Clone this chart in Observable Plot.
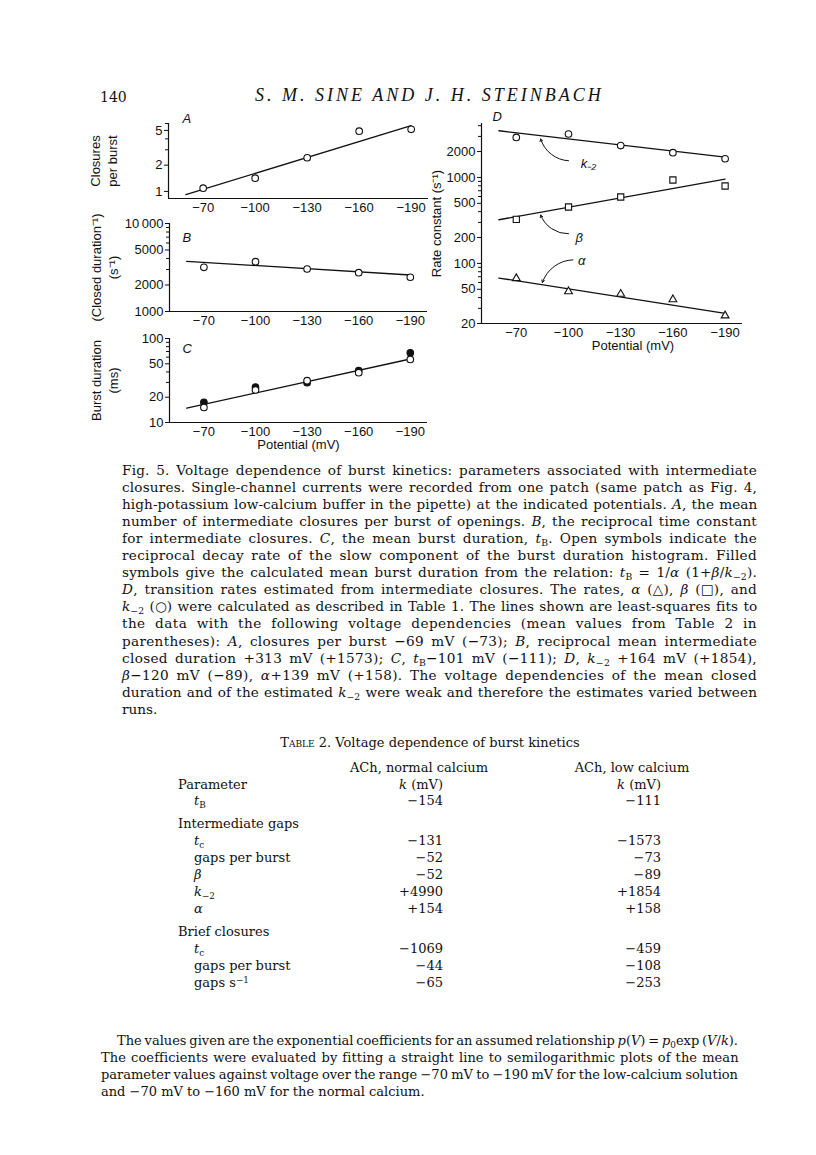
<!DOCTYPE html>
<html><head><meta charset="utf-8">
<script src="https://cdn.jsdelivr.net/npm/d3@7"></script>
<script src="https://cdn.jsdelivr.net/npm/@observablehq/plot@0.6"></script>
<style>
body{margin:0;background:#fff;}
#page{position:relative;width:816px;height:1155px;background:#fff;overflow:hidden;color:#111;}
.t{position:absolute;font-family:"DejaVu Serif",serif;font-size:13px;line-height:17px;height:17px;white-space:nowrap;}
sub{font-size:0.68em;vertical-align:-0.3em;line-height:0;}
sup{font-size:0.68em;vertical-align:0.45em;line-height:0;}
</style></head><body><div id="page"></div>
<script>
// ---------- data ----------
const potentials = [-70, -100, -130, -160, -190];
const fitV = [-60, -190];
const closuresPerBurst = [1.09, 1.42, 2.43, 4.9, 5.15];
const closuresFit = [0.92, 5.68];
const closedRate = [3180, 3680, 3040, 2760, 2450];
const closedRateFit = [3720, 2600];
const burstOpen = [15.1, 24.4, 31.5, 39.2, 56.3];
const burstFilled = [17.4, 26.4, 29.8, 41.4, 67.7];
const burstFit = [14.8, 57];
const kMinus2 = [2920, 3200, 2350, 1940, 1650];
const kMinus2Fit = [3490, 1720];
const beta = [325, 453, 592, 933, 795];
const betaFit = [322, 958];
const alpha = [67, 47.2, 44, 38.1, 24.7];
const alphaFit = [67.6, 26.2];
const annotLabels = ["k\u208B\u2082", "\u03B2", "\u03B1"];
const annotLabelV = [-107, -104, -105.5];
const annotLabelY = [1443, 199, 108];
const annotArrowFrom = [[-100, 1563], [-100, 221], [-102.5, 110]];
const annotArrowTo = [[-84, 2800], [-84, 365], [-85, 60]];

const ticksV = [-70, -100, -130, -160, -190];
const majorA = [1, 2, 5], minorA = [3, 4, 6];
const majorB = [1000, 2000, 5000, 10000], minorB = [3000, 4000, 6000, 7000, 8000, 9000];
const majorC = [10, 20, 50, 100], minorC = [30, 40, 60, 70, 80, 90];
const majorD = [20, 50, 100, 200, 500, 1000, 2000];
const minorD = [30, 40, 60, 70, 80, 90, 300, 400, 600, 700, 800, 900, 3000, 4000];

const page = document.getElementById("page");
const xDomain = [-50, -200];
const fmtV = d => "\u2212" + Math.abs(d);
const fmtY = d => d >= 10000 ? String(d).slice(0, -3) + "\u2009" + String(d).slice(-3) : String(d);
const rows = (vals) => potentials.map((V, i) => ({V, value: vals[i]}));
const fitRows = (vals) => fitV.map((V, i) => ({V, value: vals[i]}));
const SANS = "Liberation Sans, Arial, Helvetica, sans-serif";

function panel(o, marks) {
  const p = Plot.plot({
    width: o.width, height: o.height,
    marginLeft: o.ml, marginRight: o.mr, marginTop: o.mt, marginBottom: o.mb,
    x: {domain: xDomain},
    y: {type: "log", domain: o.yDomain},
    style: {fontSize: "13px", fontFamily: SANS, background: "transparent", overflow: "visible", color: "#111"},
    marks: [
      Plot.ruleX([xDomain[0]], {strokeWidth: 1.2}),
      Plot.ruleY([o.yDomain[0]], {strokeWidth: 1.2}),
      Plot.axisY({ticks: o.major, tickSize: 4, tickFormat: () => "", label: null}),
      Plot.axisY({ticks: o.minor, tickSize: 3, tickFormat: () => "", label: null}),
      Plot.text(o.major, {x: () => xDomain[0], y: d => d, text: fmtY, textAnchor: "end", dx: -6, fontSize: 13}),
      Plot.axisX({ticks: ticksV, tickSize: 0, tickPadding: 4, tickFormat: fmtV, label: null, fontSize: 13}),
      Plot.text([o.letter], {frameAnchor: "top-left", dx: o.ldx, dy: o.ldy, text: d => d, fontStyle: "italic", fontSize: 13}),
      Plot.text([o.ylabel], {frameAnchor: "left", dx: o.ylx, rotate: -90, text: d => d, lineHeight: 1.3, textAnchor: "middle", lineAnchor: "middle", fontSize: 13}),
      ...(o.xlabel ? [Plot.text([o.xlabel], {frameAnchor: "bottom", dx: o.xlx || 0, dy: 26, text: d => d, fontSize: 13})] : []),
      ...marks
    ]
  });
  p.style.position = "absolute";
  p.style.left = o.left + "px";
  p.style.top = o.top + "px";
  page.appendChild(p);
}

const openDot = {x: "V", y: "value", r: 3.3, stroke: "#111", fill: "white", strokeWidth: 1.1};
const fitLine = {x: "V", y: "value", stroke: "#111", strokeWidth: 1.3};

// Panel A
panel({left: 80, top: 100, width: 360, height: 125, ml: 88, mr: 12, mt: 23, mb: 27,
  yDomain: [0.83, 6], major: majorA, minor: minorA, letter: "A", ldx: 14, ldy: -10,
  ylabel: "Closures\nper burst", ylx: -65},
  [Plot.line(fitRows(closuresFit), fitLine), Plot.dot(rows(closuresPerBurst), openDot)]);

// Panel B
panel({left: 80, top: 200, width: 360, height: 135, ml: 89, mr: 13, mt: 23, mb: 24,
  yDomain: [1000, 10000], major: majorB, minor: minorB, letter: "B", ldx: 13, ldy: 9,
  ylabel: "(Closed duration\u207B\u00B9)\n(s\u207B\u00B9)", ylx: -65},
  [Plot.line(fitRows(closedRateFit), fitLine), Plot.dot(rows(closedRate), openDot)]);

// Panel C
panel({left: 80, top: 315, width: 360, height: 145, ml: 89, mr: 13, mt: 23, mb: 38,
  yDomain: [10, 100], major: majorC, minor: minorC, letter: "C", ldx: 13, ldy: 5,
  ylabel: "Burst duration\n(ms)", ylx: -65, xlabel: "Potential (mV)"},
  [Plot.line(fitRows(burstFit), fitLine),
   Plot.dot(rows(burstFilled), {...openDot, fill: "#111"}),
   Plot.dot(rows(burstOpen), openDot)]);

// Panel D
const annot = annotLabels.map((t, i) => ({t, V: annotLabelV[i], value: annotLabelY[i],
  x1: annotArrowFrom[i][0], y1: annotArrowFrom[i][1], x2: annotArrowTo[i][0], y2: annotArrowTo[i][1]}));
const arrowOpts = {x1: "x1", y1: "y1", x2: "x2", y2: "y2", headLength: 4, strokeWidth: 1, stroke: "#111"};
panel({left: 400, top: 100, width: 360, height: 260, ml: 81, mr: 18, mt: 23, mb: 37,
  yDomain: [20, 4240], major: majorD, minor: minorD, letter: "D", ldx: 11, ldy: -12,
  ylabel: "Rate constant (s\u207B\u00B9)", ylx: -46, xlabel: "Potential (mV)", xlx: 21},
  [Plot.line(fitRows(kMinus2Fit), fitLine),
   Plot.line(fitRows(betaFit), fitLine),
   Plot.line(fitRows(alphaFit), fitLine),
   Plot.dot(rows(kMinus2), openDot),
   Plot.dot(rows(beta), {...openDot, symbol: "square", r: 3.5}),
   Plot.dot(rows(alpha), {...openDot, symbol: "triangle", r: 2.9}),
   Plot.arrow(annot.slice(0, 2), {...arrowOpts, bend: 35}),
   Plot.arrow(annot.slice(2), {...arrowOpts, bend: -35}),
   Plot.text(annot, {x: "V", y: "value", text: "t", textAnchor: "start", fontStyle: "italic", fontSize: 13})]);

// ---------- text blocks ----------
function place(html, left, top, width, justify, extra) {
  const d = document.createElement("div");
  d.className = "t";
  d.style.left = left + "px";
  d.style.top = top + "px";
  if (width != null) d.style.width = width + "px";
  if (extra) Object.assign(d.style, extra);
  d.innerHTML = "<span>" + html + "</span>";
  page.appendChild(d);
  if (justify) {
    const span = d.firstChild;
    const w = span.getBoundingClientRect().width;
    const txt = span.textContent;
    const n = (txt.match(/ /g) || []).length;
    let extraW = width - w;
    if (extraW > 0) {
      const ls = Math.min(0.45, (extraW * 0.45) / txt.length);
      d.style.letterSpacing = ls + "px";
      extraW -= ls * txt.length;
    }
    if (n > 0) d.style.wordSpacing = (extraW / n) + "px";
  }
  return d;
}

place("140", 100, 89, null, false, {fontSize: "14px"});
place("S. M. SINE AND J. H. STEINBACH", 255, 87, null, false, {fontSize: "18px", fontStyle: "italic", letterSpacing: "3px", fontFamily: "Liberation Serif, serif"});

const K2 = "<i>k</i><sub>\u22122</sub>";
const TB = "<i>t</i><sub>B</sub>";
const captionLines = [
  "Fig. 5. Voltage dependence of burst kinetics: parameters associated with intermediate",
  "closures. Single-channel currents were recorded from one patch (same patch as Fig. 4,",
  "high-potassium low-calcium buffer in the pipette) at the indicated potentials. <i>A</i>, the mean",
  "number of intermediate closures per burst of openings. <i>B</i>, the reciprocal time constant",
  "for intermediate closures. <i>C</i>, the mean burst duration, " + TB + ". Open symbols indicate the",
  "reciprocal decay rate of the slow component of the burst duration histogram. Filled",
  "symbols give the calculated mean burst duration from the relation: " + TB + " = 1/<i>\u03B1</i> (1+<i>\u03B2</i>/" + K2 + ").",
  "<i>D</i>, transition rates estimated from intermediate closures. The rates, <i>\u03B1</i> (\u25B3), <i>\u03B2</i> (\u25A1), and",
  K2 + " (\u25CB) were calculated as described in Table 1. The lines shown are least-squares fits to",
  "the data with the following voltage dependencies (mean values from Table 2 in",
  "parentheses): <i>A</i>, closures per burst \u221269 mV (\u221273); <i>B</i>, reciprocal mean intermediate",
  "closed duration +313 mV (+1573); <i>C</i>, " + TB + "\u2212101 mV (\u2212111); <i>D</i>, " + K2 + " +164 mV (+1854),",
  "<i>\u03B2</i>\u2212120 mV (\u221289), <i>\u03B1</i>+139 mV (+158). The voltage dependencies of the mean closed",
  "duration and of the estimated " + K2 + " were weak and therefore the estimates varied between",
  "runs."
];
captionLines.forEach((l, i) => place(l, 122, 461.5 + i * 17.1, 635, i < captionLines.length - 1, {fontSize: "13.6px"}));

place('<span style="font-variant:small-caps">Table</span> 2. Voltage dependence of burst kinetics', 230, 733.5, 400, false, {textAlign: "center"});

const colHeads = ["ACh, normal calcium", "ACh, low calcium"];
const colRight = [443, 661];
const colHeadCenter = [419, 632];
colHeads.forEach((h, i) => place(h, colHeadCenter[i] - 100, 758.5, 200, false, {textAlign: "center"}));
place("Parameter", 178, 775.5);
colRight.forEach(r => place("<i>k</i> (mV)", r - 100, 775.5, 100, false, {textAlign: "right"}));

const tableLabels = [TB, "Intermediate gaps", "<i>t</i><sub>c</sub>", "gaps per burst", "<i>\u03B2</i>", K2, "<i>\u03B1</i>",
  "Brief closures", "<i>t</i><sub>c</sub>", "gaps per burst", "gaps s<sup>\u22121</sup>"];
const tableIsSection = [false, true, false, false, false, false, false, true, false, false, false];
const normalCalcium = ["\u2212154", "", "\u2212131", "\u221252", "\u221252", "+4990", "+154", "", "\u22121069", "\u221244", "\u221265"];
const lowCalcium = ["\u2212111", "", "\u22121573", "\u221273", "\u221289", "+1854", "+158", "", "\u2212459", "\u2212108", "\u2212253"];
let ty = 791.5;
tableLabels.forEach((lab, i) => {
  if (i > 0) ty += tableIsSection[i] ? 23 : 17;
  place(lab, tableIsSection[i] ? 178 : 194, ty);
  if (normalCalcium[i]) place(normalCalcium[i], colRight[0] - 100, ty, 100, false, {textAlign: "right"});
  if (lowCalcium[i]) place(lowCalcium[i], colRight[1] - 100, ty, 100, false, {textAlign: "right"});
});

const footLines = [
  "The values given are the exponential coefficients for an assumed relationship <i>p</i>(<i>V</i>) = <i>p</i><sub>0</sub>exp (<i>V</i>/<i>k</i>).",
  "The coefficients were evaluated by fitting a straight line to semilogarithmic plots of the mean",
  "parameter values against voltage over the range \u221270 mV to \u2212190 mV for the low-calcium solution",
  "and \u221270 mV to \u2212160 mV for the normal calcium."
];
footLines.forEach((l, i) => place(l, i === 0 ? 117 : 101, 1031.5 + i * 17, i === 0 ? 621 : 637, i < footLines.length - 1));
</script>
</body></html>
